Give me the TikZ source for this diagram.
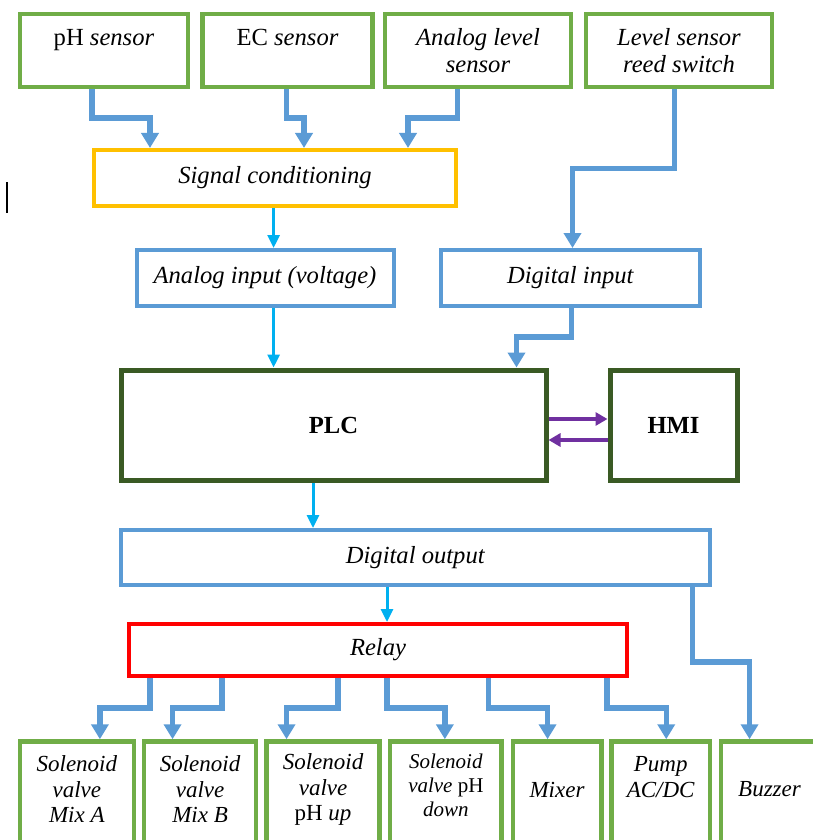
\documentclass[tikz,border=0pt]{standalone}
\usepackage{fontspec}
\setmainfont{Liberation Serif}
\usepackage{tikz}
\usetikzlibrary{arrows.meta,positioning,calc}

\definecolor{leafgreen}{HTML}{70AD47}
\definecolor{darkleaf}{HTML}{3A5A24}
\definecolor{amber}{HTML}{FFC000}
\definecolor{steelblue}{HTML}{5B9BD5}
\definecolor{skyblue}{HTML}{00B0F0}
\definecolor{plcpurple}{HTML}{7030A0}

\tikzset{
  sensorbox/.style={draw=leafgreen, line width=4.5pt, align=center, minimum height=73pt},
  condbox/.style={draw=amber, line width=4pt, minimum height=56pt},
  iobox/.style={draw=steelblue, line width=4pt, minimum height=56pt},
  ctrlbox/.style={draw=darkleaf, line width=5pt, minimum height=110pt, font=\fontsize{24.6}{27}\selectfont\bfseries},
  relaybox/.style={draw=red, line width=4pt, minimum height=52pt},
  outbox/.style={draw=leafgreen, line width=4.5pt, minimum height=130pt},
  outtext/.style={align=center, yshift=17pt, font=\fontsize{23}{25.5}\selectfont},
  wire/.style={draw=steelblue, line width=5.5pt, -{Triangle[width=17pt,length=15pt]}},
  thinwire/.style={draw=skyblue, line width=3pt, -{Triangle[width=12pt,length=13pt]}},
  hmiwire/.style={draw=plcpurple, line width=3.5pt, -{Triangle[width=13pt,length=12pt]}}
}

\begin{document}
\begin{tikzpicture}[x=1pt, y=-1pt, every node/.style={font=\fontsize{24.6}{27}\selectfont}]
\useasboundingbox (0,0) rectangle (812,840);

% sensors
\node[sensorbox, minimum width=168pt] (ph) at (104,50.5) {pH \textit{sensor}\\~};
\node[sensorbox, minimum width=170pt, right=10pt of ph] (ec) {EC \textit{sensor}\\~};
\node[sensorbox, minimum width=186pt, right=8pt of ec] (alev) {\textit{Analog level}\\\textit{sensor}};
\node[sensorbox, minimum width=186pt, right=10.5pt of alev] (reed) {\textit{Level sensor}\\\textit{reed switch}};

% inputs
\node[condbox, minimum width=362pt] (sig) at (275,178) {\textit{Signal conditioning}};
\node[iobox, minimum width=257pt] (ain) at (265,278) {\textit{Analog input (voltage)}};
\node[iobox, minimum width=259pt] (din) at (570.5,278) {\textit{Digital input}};

% controller
\node[ctrlbox, minimum width=425pt] (plc) at (333.5,425) {PLC};
\node[ctrlbox, minimum width=127pt, right=59pt of plc] (hmi) {HMI};

% outputs
\node[iobox, minimum width=589pt, minimum height=55pt] (dout) at (415.5,557.5) {\textit{Digital output}};
\node[relaybox, minimum width=498.5pt] (relay) at (378,650) {\textit{Relay}};

% actuators
\node[outbox, minimum width=113.7pt, anchor=north, label={[outtext]center:{\textit{Solenoid}\\\textit{valve}\\\textit{Mix A}}}] (sva) at (76.9,739.25) {};
\node[outbox, minimum width=112pt, right=5.8pt of sva, label={[outtext]center:{\textit{Solenoid}\\\textit{valve}\\\textit{Mix B}}}] (svb) {};
\node[outbox, minimum width=113pt, right=6pt of svb, label={[outtext]center:{\textit{Solenoid}\\\textit{valve}\\pH \textit{up}}}] (svup) {};
\node[outbox, minimum width=111.6pt, right=6pt of svup, label={[outtext, yshift=4pt, font=\fontsize{21}{24}\selectfont]center:{\textit{Solenoid}\\\textit{valve} pH\\\textit{down}}}] (svdown) {};
\node[outbox, minimum width=88.6pt, right=6.6pt of svdown, label={[outtext]center:{\textit{Mixer}}}] (mixer) {};
\node[outbox, minimum width=98.2pt, right=5.8pt of mixer, label={[outtext]center:{\textit{Pump}\\\textit{AC/DC}\\~}}] (pump) {};
\node[outbox, minimum width=97.4pt, right=6.5pt of pump, label={[outtext]center:{\textit{Buzzer}}}] (buzzer) {};

% sensor wiring
\draw[wire] ([xshift=-12pt]ph.south) |- ++(0,29) -| ([xshift=-125pt]sig.north);
\draw[wire] ([xshift=-1pt]ec.south) |- ++(0,29) -| ([xshift=29pt]sig.north);
\draw[wire] ([xshift=-20.5pt]alev.south) |- ++(0,29) -| ([xshift=133pt]sig.north);
\draw[wire] ([xshift=-4.4pt]reed.south) |- ++(0,79) -| ([xshift=2pt]din.north);

\draw[thinwire] ([xshift=-1.4pt]sig.south) -- ([xshift=-1.4pt]sig.south |- ain.north);
\draw[thinwire] ([xshift=8.6pt]ain.south) -- ([xshift=8.6pt]ain.south |- plc.north);
\draw[wire] ([xshift=1pt]din.south) |- ++(0,29) -| ([xshift=183pt]plc.north);

% PLC <-> HMI
\draw[hmiwire] ([yshift=6pt]plc.east) -- ([yshift=6pt]hmi.west);
\draw[hmiwire] ([yshift=-15pt]hmi.west) -- ([yshift=-15pt]plc.east);

% output wiring
\draw[thinwire] ([xshift=-20.5pt]plc.south) -- ([xshift=-20.5pt]plc.south |- dout.north);
\draw[thinwire] ([xshift=-28.5pt]dout.south) -- ([xshift=-28.5pt]dout.south |- relay.north);
\draw[wire] ([xshift=277.2pt]dout.south) |- ++(0,75) -| ([xshift=-20pt]buzzer.north);

\draw[wire] ([xshift=-228pt]relay.south) |- ++(0,30) -| ([xshift=23pt]sva.north);
\draw[wire] ([xshift=-156pt]relay.south) |- ++(0,30) -| ([xshift=-27.5pt]svb.north);
\draw[wire] ([xshift=-40pt]relay.south) |- ++(0,30) -| ([xshift=-36.5pt]svup.north);
\draw[wire] ([xshift=9pt]relay.south) |- ++(0,30) -| ([xshift=-1pt]svdown.north);
\draw[wire] ([xshift=110.6pt]relay.south) |- ++(0,30) -| ([xshift=-9.5pt]mixer.north);
\draw[wire] ([xshift=229pt]relay.south) |- ++(0,30) -| ([xshift=5.5pt]pump.north);

% stray mark
\draw[line width=2.5pt] (7,182) -- (7,213);
\end{tikzpicture}
\end{document}
